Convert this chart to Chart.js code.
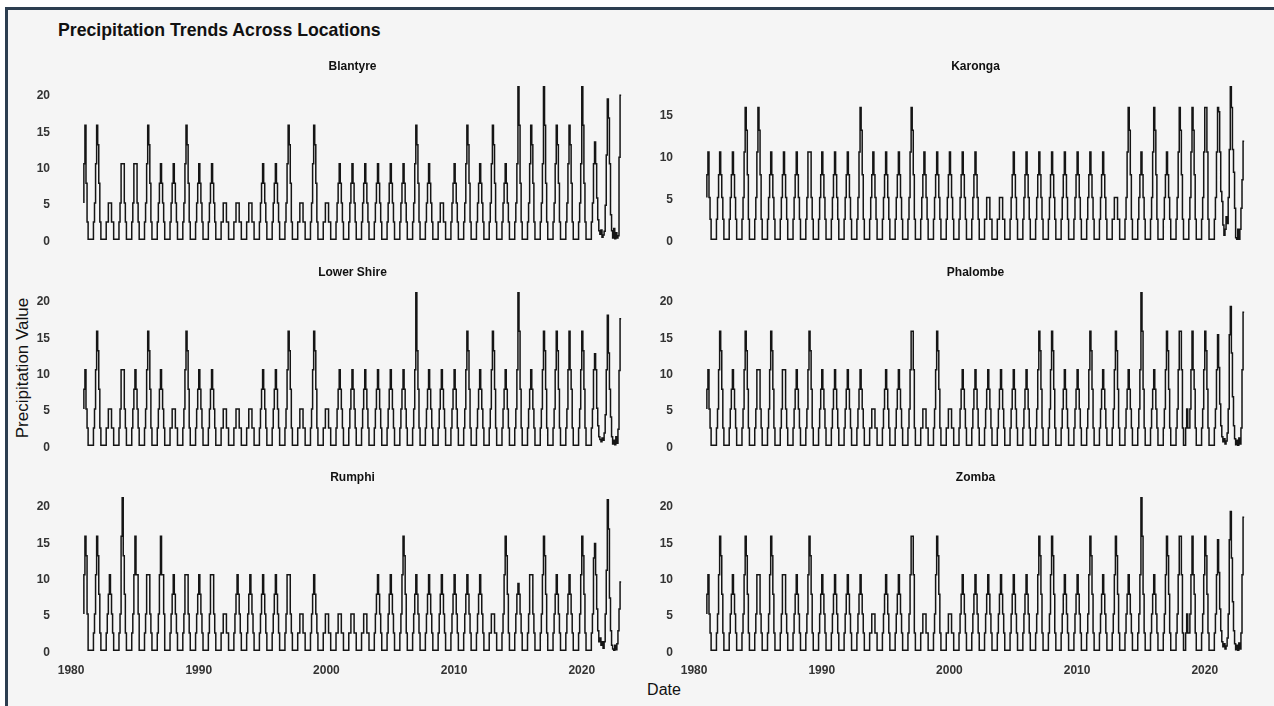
<!DOCTYPE html>
<html>
<head>
<meta charset="utf-8">
<script src="https://cdn.jsdelivr.net/npm/chart.js@4.4.1/dist/chart.umd.min.js"></script>
<style>
html, body { margin: 0; padding: 0; background: #fff; overflow: hidden; width: 1274px; height: 706px; }
#frame { position: absolute; left: 5px; top: 7px; width: 1290px; height: 720px; background: #f5f5f5;
         border-left: 3px solid #2c3e50; border-top: 3px solid #2c3e50; }
.txt { position: absolute; font-family: "Liberation Sans", Arial, sans-serif; color: #111; white-space: nowrap; line-height: 1; }
canvas { position: absolute; }
</style>
</head>
<body>
<div id="frame"></div>
<div class="txt" id="title" style="left:58px; top:22px; font-size:17.7px; font-weight:bold;">Precipitation Trends Across Locations</div>
<div class="txt" style="left:664px; top:690px; font-size:16px; transform:translate(-50%,-50%);">Date</div>
<div class="txt" style="left:22px; top:368px; font-size:17px; transform:translate(-50%,-50%) rotate(-90deg);">Precipitation Value</div>

<script>
// monthly values, Jan 1981 .. Feb 2023 (first row Jan-Jun 1981, then one row per Jul-Jun season)
const startYear = 1981
const locations = ['Blantyre', 'Karonga', 'Lower Shire', 'Phalombe', 'Rumphi', 'Zomba']
const yTickValues = [0, 5, 10, 15, 20]
const xTickValues = [1980, 1990, 2000, 2010, 2020]

const blantyre = [
  5.3, 10.7, 16, 8, 2.7, .3,
  .3,.3,.3,.3,2.7,5.3,10.7,16,13.3,8,2.7,.3,      // 82
  .3,.3,.3,.3,2.7,2.7,5.3,5.3,5.3,2.7,2.7,.3,     // 83
  .3,.3,.3,.3,2.7,5.3,10.7,10.7,10.7,5.3,2.7,.3,  // 84
  .3,.3,.3,.3,2.7,5.3,10.7,10.7,10.7,5.3,2.7,.3,  // 85
  .3,.3,.3,.3,2.7,5.3,10.7,16,13.3,8,2.7,.3,      // 86
  .3,.3,.3,.3,2.7,5.3,8,10.7,8,5.3,2.7,.3,        // 87
  .3,.3,.3,.3,2.7,5.3,8,10.7,8,5.3,2.7,.3,        // 88
  .3,.3,.3,.3,2.7,5.3,10.7,16,13.3,8,2.7,.3,      // 89
  .3,.3,.3,.3,2.7,5.3,8,10.7,8,5.3,2.7,.3,        // 90
  .3,.3,.3,.3,2.7,5.3,8,10.7,8,5.3,2.7,.3,        // 91
  .3,.3,.3,.3,2.7,2.7,5.3,5.3,5.3,2.7,2.7,.3,     // 92
  .3,.3,.3,.3,2.7,2.7,5.3,5.3,5.3,2.7,2.7,.3,     // 93
  .3,.3,.3,.3,2.7,2.7,5.3,5.3,5.3,2.7,2.7,.3,     // 94
  .3,.3,.3,.3,2.7,5.3,8,10.7,8,5.3,2.7,.3,        // 95
  .3,.3,.3,.3,2.7,5.3,8,10.7,8,5.3,2.7,.3,        // 96
  .3,.3,.3,.3,2.7,5.3,10.7,16,13.3,8,2.7,.3,      // 97
  .3,.3,.3,.3,2.7,2.7,5.3,5.3,5.3,2.7,2.7,.3,     // 98
  .3,.3,.3,.3,2.7,5.3,10.7,16,13.3,8,2.7,.3,      // 99
  .3,.3,.3,.3,2.7,2.7,5.3,5.3,5.3,2.7,2.7,.3,     // 00
  .3,.3,.3,.3,2.7,5.3,8,10.7,8,5.3,2.7,.3,        // 01
  .3,.3,.3,.3,2.7,5.3,8,10.7,8,5.3,2.7,.3,        // 02
  .3,.3,.3,.3,2.7,5.3,8,10.7,8,5.3,2.7,.3,        // 03
  .3,.3,.3,.3,2.7,5.3,8,10.7,8,5.3,2.7,.3,        // 04
  .3,.3,.3,.3,2.7,5.3,8,10.7,8,5.3,2.7,.3,        // 05
  .3,.3,.3,.3,2.7,5.3,8,10.7,8,5.3,2.7,.3,        // 06
  .3,.3,.3,.3,2.7,5.3,10.7,16,13.3,8,2.7,.3,      // 07
  .3,.3,.3,.3,2.7,5.3,8,10.7,8,5.3,2.7,.3,        // 08
  .3,.3,.3,.3,2.7,2.7,5.3,5.3,5.3,2.7,2.7,.3,     // 09
  .3,.3,.3,.3,2.7,5.3,8,10.7,8,5.3,2.7,.3,        // 10
  .3,.3,.3,.3,2.7,5.3,10.7,16,13.3,8,2.7,.3,      // 11
  .3,.3,.3,.3,2.7,5.3,8,10.7,8,5.3,2.7,.3,        // 12
  .3,.3,.3,.3,2.7,5.3,10.7,16,13.3,8,2.7,.3,      // 13
  .3,.3,.3,.3,2.7,5.3,8,10.7,8,5.3,2.7,.3,        // 14
  .3,.3,.3,.3,2.7,5.3,10.7,21.3,16,8,2.7,.3,      // 15
  .3,.3,.3,.3,2.7,5.3,10.7,16,13.3,8,2.7,.3,      // 16
  .3,.3,.3,.3,2.7,5.3,10.7,21.3,16,8,2.7,.3,      // 17
  .3,.3,.3,.3,2.7,5.3,10.7,16,13.3,8,2.7,.3,      // 18
  .3,.3,.3,.3,2.7,5.3,10.7,16,13.3,8,2.7,.3,      // 19
  .3,.3,.3,.3,2.7,5.3,10.7,21.3,16,8,2.7,.3,      // 20
  .3,.3,.3,.3,2.7,5.3,10.7,13.7,10.7,6,3,1.5,     // 21
  1,1.6,.6,.9,1.4,5,11.9,19.6,17,10.7,3.7,1.5,    // 22
  .5,1.8,.4,1.2,.5,.8,11.6,20.1                   // 23
]

const karonga = [
  5.3, 8, 10.7, 5.3, 2.7, .3,
  .3,.3,.3,.3,2.7,5.3,8,10.7,8,5.3,2.7,.3,        // 82
  .3,.3,.3,.3,2.7,5.3,8,10.7,8,5.3,2.7,.3,        // 83
  .3,.3,.3,.3,2.7,5.3,10.7,16,13.3,8,2.7,.3,      // 84
  .3,.3,.3,.3,2.7,5.3,10.7,16,13.3,8,2.7,.3,      // 85
  .3,.3,.3,.3,2.7,5.3,8,10.7,8,5.3,2.7,.3,        // 86
  .3,.3,.3,.3,2.7,5.3,8,10.7,8,5.3,2.7,.3,        // 87
  .3,.3,.3,.3,2.7,5.3,8,10.7,8,5.3,2.7,.3,        // 88
  .3,.3,.3,.3,2.7,5.3,10.7,10.7,10.7,5.3,2.7,.3,  // 89
  .3,.3,.3,.3,2.7,5.3,8,10.7,8,5.3,2.7,.3,        // 90
  .3,.3,.3,.3,2.7,5.3,8,10.7,8,5.3,2.7,.3,        // 91
  .3,.3,.3,.3,2.7,5.3,8,10.7,8,5.3,2.7,.3,        // 92
  .3,.3,.3,.3,2.7,5.3,10.7,16,13.3,8,2.7,.3,      // 93
  .3,.3,.3,.3,2.7,5.3,8,10.7,8,5.3,2.7,.3,        // 94
  .3,.3,.3,.3,2.7,5.3,8,10.7,8,5.3,2.7,.3,        // 95
  .3,.3,.3,.3,2.7,5.3,8,10.7,8,5.3,2.7,.3,        // 96
  .3,.3,.3,.3,2.7,5.3,10.7,16,13.3,8,2.7,.3,      // 97
  .3,.3,.3,.3,2.7,5.3,8,10.7,8,5.3,2.7,.3,        // 98
  .3,.3,.3,.3,2.7,5.3,8,10.7,8,5.3,2.7,.3,        // 99
  .3,.3,.3,.3,2.7,5.3,8,10.7,8,5.3,2.7,.3,        // 00
  .3,.3,.3,.3,2.7,5.3,8,10.7,8,5.3,2.7,.3,        // 01
  .3,.3,.3,.3,2.7,5.3,8,10.7,8,5.3,2.7,.3,        // 02
  .3,.3,.3,.3,2.7,2.7,5.3,5.3,5.3,2.7,2.7,.3,     // 03
  .3,.3,.3,.3,2.7,2.7,5.3,5.3,5.3,2.7,2.7,.3,     // 04
  .3,.3,.3,.3,2.7,5.3,8,10.7,8,5.3,2.7,.3,        // 05
  .3,.3,.3,.3,2.7,5.3,8,10.7,8,5.3,2.7,.3,        // 06
  .3,.3,.3,.3,2.7,5.3,8,10.7,8,5.3,2.7,.3,        // 07
  .3,.3,.3,.3,2.7,5.3,8,10.7,8,5.3,2.7,.3,        // 08
  .3,.3,.3,.3,2.7,5.3,8,10.7,8,5.3,2.7,.3,        // 09
  .3,.3,.3,.3,2.7,5.3,8,10.7,8,5.3,2.7,.3,        // 10
  .3,.3,.3,.3,2.7,5.3,8,10.7,8,5.3,2.7,.3,        // 11
  .3,.3,.3,.3,2.7,5.3,8,10.7,8,5.3,2.7,.3,        // 12
  .3,.3,.3,.3,2.7,2.7,5.3,5.3,5.3,2.7,2.7,.3,     // 13
  .3,.3,.3,.3,2.7,5.3,10.7,16,13.3,8,2.7,.3,      // 14
  .3,.3,.3,.3,2.7,5.3,8,10.7,8,5.3,2.7,.3,        // 15
  .3,.3,.3,.3,2.7,5.3,10.7,16,13.3,8,2.7,.3,      // 16
  .3,.3,.3,.3,2.7,5.3,8,10.7,8,5.3,2.7,.3,        // 17
  .3,.3,.3,.3,2.7,5.3,10.7,16,13.3,8,2.7,.3,      // 18
  .3,.3,.3,.3,2.7,5.3,10.7,16,13.3,8,2.7,.3,      // 19
  .3,.3,.3,.3,2.7,5.3,10.7,16,16,10.7,2.7,.3,     // 20
  .3,.3,.3,.3,2.7,5.3,10.7,16,15.5,10.7,6,4.8,    // 21
  2,.8,1.5,3,2.2,5.3,11,18.5,16,11,8.3,4,         // 22
  .5,.3,1.5,.3,1.5,4,7.4,12                       // 23
]

const lowerShire = [
  5.3, 8, 10.7, 5.3, 2.7, .3,
  .3,.3,.3,.3,2.7,5.3,10.7,16,13.3,8,2.7,.3,      // 82
  .3,.3,.3,.3,2.7,2.7,5.3,5.3,5.3,2.7,2.7,.3,     // 83
  .3,.3,.3,.3,2.7,5.3,10.7,10.7,10.7,5.3,2.7,.3,  // 84
  .3,.3,.3,.3,2.7,5.3,8,10.7,8,5.3,2.7,.3,        // 85
  .3,.3,.3,.3,2.7,5.3,10.7,16,13.3,8,2.7,.3,      // 86
  .3,.3,.3,.3,2.7,5.3,8,10.7,8,5.3,2.7,.3,        // 87
  .3,.3,.3,.3,2.7,2.7,5.3,5.3,5.3,2.7,2.7,.3,     // 88
  .3,.3,.3,.3,2.7,5.3,10.7,16,13.3,8,2.7,.3,      // 89
  .3,.3,.3,.3,2.7,5.3,8,10.7,8,5.3,2.7,.3,        // 90
  .3,.3,.3,.3,2.7,5.3,8,10.7,8,5.3,2.7,.3,        // 91
  .3,.3,.3,.3,2.7,2.7,5.3,5.3,5.3,2.7,2.7,.3,     // 92
  .3,.3,.3,.3,2.7,2.7,5.3,5.3,5.3,2.7,2.7,.3,     // 93
  .3,.3,.3,.3,2.7,2.7,5.3,5.3,5.3,2.7,2.7,.3,     // 94
  .3,.3,.3,.3,2.7,5.3,8,10.7,8,5.3,2.7,.3,        // 95
  .3,.3,.3,.3,2.7,5.3,8,10.7,8,5.3,2.7,.3,        // 96
  .3,.3,.3,.3,2.7,5.3,10.7,16,13.3,8,2.7,.3,      // 97
  .3,.3,.3,.3,2.7,2.7,5.3,5.3,5.3,2.7,2.7,.3,     // 98
  .3,.3,.3,.3,2.7,5.3,10.7,16,13.3,8,2.7,.3,      // 99
  .3,.3,.3,.3,2.7,2.7,5.3,5.3,5.3,2.7,2.7,.3,     // 00
  .3,.3,.3,.3,2.7,5.3,8,10.7,8,5.3,2.7,.3,        // 01
  .3,.3,.3,.3,2.7,5.3,8,10.7,8,5.3,2.7,.3,        // 02
  .3,.3,.3,.3,2.7,5.3,8,10.7,8,5.3,2.7,.3,        // 03
  .3,.3,.3,.3,2.7,5.3,8,10.7,8,5.3,2.7,.3,        // 04
  .3,.3,.3,.3,2.7,5.3,8,10.7,8,5.3,2.7,.3,        // 05
  .3,.3,.3,.3,2.7,5.3,8,10.7,8,5.3,2.7,.3,        // 06
  .3,.3,.3,.3,2.7,5.3,10.7,21.3,13.3,8,2.7,.3,    // 07
  .3,.3,.3,.3,2.7,5.3,8,10.7,8,5.3,2.7,.3,        // 08
  .3,.3,.3,.3,2.7,5.3,8,10.7,8,5.3,2.7,.3,        // 09
  .3,.3,.3,.3,2.7,5.3,8,10.7,8,5.3,2.7,.3,        // 10
  .3,.3,.3,.3,2.7,5.3,10.7,16,13.3,8,2.7,.3,      // 11
  .3,.3,.3,.3,2.7,5.3,8,10.7,8,5.3,2.7,.3,        // 12
  .3,.3,.3,.3,2.7,5.3,10.7,16,13.3,8,2.7,.3,      // 13
  .3,.3,.3,.3,2.7,5.3,8,10.7,8,5.3,2.7,.3,        // 14
  .3,.3,.3,.3,2.7,5.3,10.7,21.3,16,8,2.7,.3,      // 15
  .3,.3,.3,.3,2.7,5.3,8,10.7,8,5.3,2.7,.3,        // 16
  .3,.3,.3,.3,2.7,5.3,10.7,16,13.3,8,2.7,.3,      // 17
  .3,.3,.3,.3,2.7,5.3,10.7,16,13.3,8,2.7,.3,      // 18
  .3,.3,.3,.3,2.7,5.3,10.7,16,10.7,8,2.7,.3,      // 19
  .3,.3,.3,.3,2.7,5.3,10.7,16,13.3,8,2.7,.3,      // 20
  .3,.3,.3,.3,2.7,5.3,10.7,12.9,10.7,5.4,3,1.5,   // 21
  1.1,.8,1.3,1,2,4.5,10.7,18.2,13,8,4.2,1.5,      // 22
  .5,1,.4,1.5,.6,2.5,10.6,17.7                    // 23
]

const phalombe = [
  5.3, 8, 10.7, 5.3, 2.7, .3,
  .3,.3,.3,.3,2.7,5.3,10.7,16,13.3,8,2.7,.3,      // 82
  .3,.3,.3,.3,2.7,5.3,8,10.7,8,5.3,2.7,.3,        // 83
  .3,.3,.3,.3,2.7,5.3,10.7,16,13.3,8,2.7,.3,      // 84
  .3,.3,.3,.3,2.7,5.3,10.7,10.7,10.7,5.3,2.7,.3,  // 85
  .3,.3,.3,.3,2.7,5.3,10.7,16,13.3,8,2.7,.3,      // 86
  .3,.3,.3,.3,2.7,5.3,10.7,10.7,10.7,5.3,2.7,.3,  // 87
  .3,.3,.3,.3,2.7,5.3,8,10.7,8,5.3,2.7,.3,        // 88
  .3,.3,.3,.3,2.7,5.3,10.7,16,13.3,8,2.7,.3,      // 89
  .3,.3,.3,.3,2.7,5.3,8,10.7,8,5.3,2.7,.3,        // 90
  .3,.3,.3,.3,2.7,5.3,8,10.7,8,5.3,2.7,.3,        // 91
  .3,.3,.3,.3,2.7,5.3,8,10.7,8,5.3,2.7,.3,        // 92
  .3,.3,.3,.3,2.7,5.3,8,10.7,8,5.3,2.7,.3,        // 93
  .3,.3,.3,.3,2.7,2.7,5.3,5.3,5.3,2.7,2.7,.3,     // 94
  .3,.3,.3,.3,2.7,5.3,8,10.7,8,5.3,2.7,.3,        // 95
  .3,.3,.3,.3,2.7,5.3,8,10.7,8,5.3,2.7,.3,        // 96
  .3,.3,.3,.3,2.7,5.3,10.7,16,16,10.7,2.7,.3,     // 97
  .3,.3,.3,.3,2.7,2.7,5.3,5.3,5.3,2.7,2.7,.3,     // 98
  .3,.3,.3,.3,2.7,5.3,10.7,16,13.3,8,2.7,.3,      // 99
  .3,.3,.3,.3,2.7,2.7,5.3,5.3,5.3,2.7,2.7,.3,     // 00
  .3,.3,.3,.3,2.7,5.3,8,10.7,8,5.3,2.7,.3,        // 01
  .3,.3,.3,.3,2.7,5.3,8,10.7,8,5.3,2.7,.3,        // 02
  .3,.3,.3,.3,2.7,5.3,8,10.7,8,5.3,2.7,.3,        // 03
  .3,.3,.3,.3,2.7,5.3,8,10.7,8,5.3,2.7,.3,        // 04
  .3,.3,.3,.3,2.7,5.3,8,10.7,8,5.3,2.7,.3,        // 05
  .3,.3,.3,.3,2.7,5.3,8,10.7,8,5.3,2.7,.3,        // 06
  .3,.3,.3,.3,2.7,5.3,10.7,16,13.3,8,2.7,.3,      // 07
  .3,.3,.3,.3,2.7,5.3,10.7,16,13.3,8,2.7,.3,      // 08
  .3,.3,.3,.3,2.7,5.3,8,10.7,8,5.3,2.7,.3,        // 09
  .3,.3,.3,.3,2.7,5.3,8,10.7,8,5.3,2.7,.3,        // 10
  .3,.3,.3,.3,2.7,5.3,10.7,16,13.3,8,2.7,.3,      // 11
  .3,.3,.3,.3,2.7,5.3,8,10.7,8,5.3,2.7,.3,        // 12
  .3,.3,.3,.3,2.7,5.3,10.7,16,13.3,8,2.7,.3,      // 13
  .3,.3,.3,.3,2.7,5.3,8,10.7,8,5.3,2.7,.3,        // 14
  .3,.3,.3,.3,2.7,5.3,10.7,21.3,16,8,2.7,.3,      // 15
  .3,.3,.3,.3,2.7,5.3,8,10.7,8,5.3,2.7,.3,        // 16
  .3,.3,.3,.3,2.7,5.3,10.7,16,13.3,8,2.7,.3,      // 17
  .3,.3,.3,.3,2.7,5.3,10.7,16,16,10.7,2.7,.3,     // 18
  .3,2.7,5.3,2.7,2.7,5.3,10.7,16,10.7,8,2.7,.3,   // 19
  .3,.3,.3,.3,2.7,5.3,10.7,16,13.3,8,2.7,.3,      // 20
  .3,.3,.3,.3,2.7,5.3,10.7,15.5,11,6,3,1.5,       // 21
  .8,1.2,.5,.9,2,5.3,15.5,19.4,13,7,3,1.2,        // 22
  .4,1,.3,1.3,.5,2.7,10.7,18.6                    // 23
]

const rumphi = [
  5.3, 10.7, 16, 13.3, 5.3, .3,
  .3,.3,.3,.3,2.7,5.3,10.7,16,13.3,8,2.7,.3,      // 82
  .3,.3,.3,.3,2.7,5.3,8,10.7,8,5.3,2.7,.3,        // 83
  .3,.3,.3,.3,2.7,5.3,16,21.3,13.3,8,2.7,.3,      // 84
  .3,.3,.3,.3,2.7,5.3,10.7,16,10.7,10.7,5.3,.3,   // 85
  .3,.3,.3,.3,2.7,5.3,10.7,10.7,10.7,5.3,2.7,.3,  // 86
  .3,.3,.3,.3,2.7,5.3,10.7,16,10.7,10.7,5.3,.3,   // 87
  .3,.3,.3,.3,2.7,5.3,8,10.7,8,5.3,2.7,.3,        // 88
  .3,.3,.3,.3,2.7,5.3,10.7,10.7,10.7,5.3,2.7,.3,  // 89
  .3,.3,.3,.3,2.7,5.3,8,10.7,8,5.3,2.7,.3,        // 90
  .3,.3,.3,.3,2.7,5.3,10.7,10.7,10.7,5.3,2.7,.3,  // 91
  .3,.3,.3,.3,2.7,2.7,5.3,5.3,5.3,2.7,2.7,.3,     // 92
  .3,.3,.3,.3,2.7,5.3,8,10.7,8,5.3,2.7,.3,        // 93
  .3,.3,.3,.3,2.7,5.3,8,10.7,8,5.3,2.7,.3,        // 94
  .3,.3,.3,.3,2.7,5.3,8,10.7,8,5.3,2.7,.3,        // 95
  .3,.3,.3,.3,2.7,5.3,8,10.7,8,5.3,2.7,.3,        // 96
  .3,.3,.3,.3,2.7,5.3,10.7,10.7,10.7,5.3,2.7,.3,  // 97
  .3,.3,.3,.3,2.7,2.7,5.3,5.3,5.3,2.7,2.7,.3,     // 98
  .3,.3,.3,.3,2.7,5.3,8,10.7,8,5.3,2.7,.3,        // 99
  .3,.3,.3,.3,2.7,2.7,5.3,5.3,5.3,2.7,2.7,.3,     // 00
  .3,.3,.3,.3,2.7,2.7,5.3,5.3,5.3,2.7,2.7,.3,     // 01
  .3,.3,.3,.3,2.7,2.7,5.3,5.3,5.3,2.7,2.7,.3,     // 02
  .3,.3,.3,.3,2.7,2.7,5.3,5.3,5.3,2.7,2.7,.3,     // 03
  .3,.3,.3,.3,2.7,5.3,8,10.7,8,5.3,2.7,.3,        // 04
  .3,.3,.3,.3,2.7,5.3,8,10.7,8,5.3,2.7,.3,        // 05
  .3,.3,.3,.3,2.7,5.3,10.7,16,13.3,8,2.7,.3,      // 06
  .3,.3,.3,.3,2.7,5.3,8,10.7,8,5.3,2.7,.3,        // 07
  .3,.3,.3,.3,2.7,5.3,8,10.7,8,5.3,2.7,.3,        // 08
  .3,.3,.3,.3,2.7,5.3,8,10.7,8,5.3,2.7,.3,        // 09
  .3,.3,.3,.3,2.7,5.3,8,10.7,8,5.3,2.7,.3,        // 10
  .3,.3,.3,.3,2.7,5.3,8,10.7,8,5.3,2.7,.3,        // 11
  .3,.3,.3,.3,2.7,5.3,8,10.7,8,5.3,2.7,.3,        // 12
  .3,.3,.3,.3,2.7,2.7,5.3,5.3,5.3,2.7,2.7,.3,     // 13
  .3,.3,.3,.3,2.7,5.3,10.7,16,13.3,8,2.7,.3,      // 14
  .3,.3,.3,.3,2.7,5.3,8,9.5,8,5.3,2.7,.3,         // 15
  .3,.3,.3,.3,2.7,5.3,10.7,10.7,10.7,5.3,2.7,.3,  // 16
  .3,.3,.3,.3,2.7,5.3,10.7,16,13.3,8,2.7,.3,      // 17
  .3,.3,.3,.3,2.7,5.3,8,10.7,8,5.3,2.7,.3,        // 18
  .3,.3,.3,.3,2.7,5.3,8,10.7,8,5.3,2.7,.3,        // 19
  .3,.3,.3,.3,2.7,5.3,10.7,16,13.3,8,2.7,.3,      // 20
  .3,.3,.3,.3,2.7,5.3,13,15,10.7,6,3,1.5,         // 21
  2,1,1.5,.6,1.5,5.3,11.3,21,17,7.5,3,1,          // 22
  .5,.3,1,.4,1.2,3,6,9.7                          // 23
]

// Zomba reads the same as Phalombe in the picture
const zomba = [...phalombe]

const series = [blantyre, karonga, lowerShire, phalombe, rumphi, zomba]

// panel geometry (plot area, px)
const plotW = 591, plotH = 168
const colLeft = [57, 680]
const rowTop = [79, 285, 490]
const yAxisW = 40, pad = 7, xAxisH = 24

const tickFont = { family: '"Liberation Sans", Arial, sans-serif', size: 12, weight: 'bold' }

locations.forEach((name, k) => {
    const col = k % 2
    const row = Math.floor(k / 2)
    const values = series[k]
    const points = values.map((v, i) => ({ x: startYear + i / 12, y: v }))

    const x0 = points[0].x, x1 = points[points.length - 1].x
    const lo = Math.min(...values), hi = Math.max(...values)
    const xPad = (x1 - x0) * 0.05, yPad = (hi - lo) * 0.05
    const bottom = row === 2

    const canvas = document.createElement('canvas')
    canvas.width = yAxisW + plotW
    canvas.height = pad + plotH + (bottom ? xAxisH : pad)
    canvas.style.left = (colLeft[col] - yAxisW) + 'px'
    canvas.style.top = (rowTop[row] - pad) + 'px'
    document.body.appendChild(canvas)

    const strip = document.createElement('div')
    strip.className = 'txt'
    strip.textContent = name
    strip.style.cssText = 'font-size:12px;font-weight:bold;left:' + (colLeft[col] + plotW / 2) + 'px;top:' +
        (rowTop[row] - 13) + 'px;transform:translate(-50%,-50%);'
    document.body.appendChild(strip)

    new Chart(canvas.getContext('2d'), {
        type: 'line',
        data: {
            datasets: [{
                label: name,
                data: points,
                borderColor: '#151515',
                borderWidth: 1.5,
                pointRadius: 0,
                stepped: 'after',
                fill: false
            }]
        },
        options: {
            responsive: false,
            animation: false,
            layout: { padding: { top: pad, bottom: bottom ? 0 : pad, left: 0, right: 0 } },
            plugins: { legend: { display: false }, tooltip: { enabled: false } },
            scales: {
                x: {
                    type: 'linear',
                    display: bottom,
                    min: x0 - xPad,
                    max: x1 + xPad,
                    grid: { display: false, drawTicks: false },
                    border: { display: false },
                    ticks: { font: tickFont, color: '#333', padding: 5, maxRotation: 0, callback: v => String(v) },
                    afterBuildTicks: s => { s.ticks = xTickValues.map(v => ({ value: v })) },
                    afterFit: s => { s.height = bottom ? xAxisH : 0; s.paddingLeft = 0; s.paddingRight = 0 }
                },
                y: {
                    min: lo - yPad,
                    max: hi + yPad,
                    grid: { display: false, drawTicks: false },
                    border: { display: false },
                    ticks: { font: tickFont, color: '#333', padding: 7, callback: v => String(v) },
                    afterBuildTicks: s => { s.ticks = yTickValues.filter(v => v <= s.max).map(v => ({ value: v })) },
                    afterFit: s => { s.width = yAxisW; s.paddingTop = 0; s.paddingBottom = 0 }
                }
            }
        }
    })
})
</script>
</body>
</html>
